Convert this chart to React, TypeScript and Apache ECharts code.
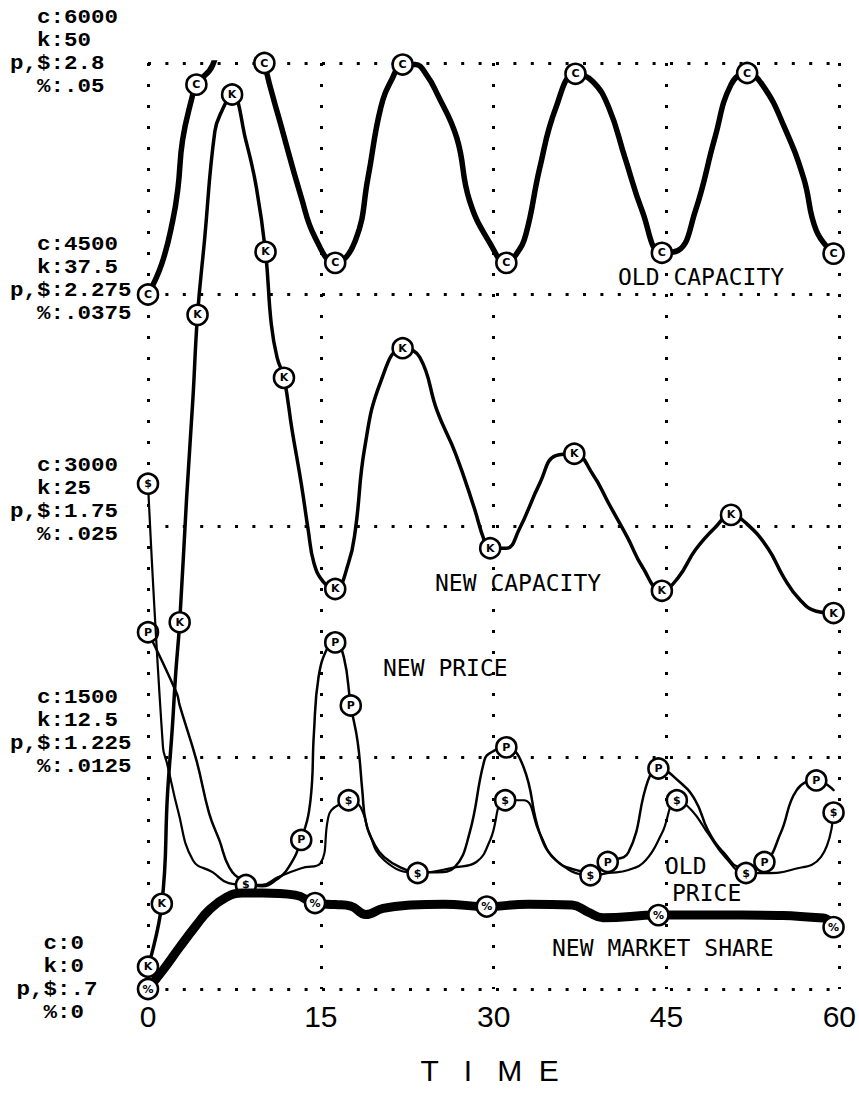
import React, { useEffect, useRef } from "react";
import * as echarts from "echarts";

// ---- axis tick labels ----
const timeTicks = [0, 15, 30, 45, 60];
const cTicks = ["6000", "4500", "3000", "1500", "0"];
const kTicks = ["50", "37.5", "25", "12.5", "0"];
const pTicks = ["2.8", "2.275", "1.75", "1.225", ".7"];
const pctTicks = [".05", ".0375", ".025", ".0125", "0"];

// ---- series: [time, value] ----
// old capacity (c scale)
const oldCapacity: [number, number][] = [
  [0, 4500], [1.2, 4700], [2.15, 4980], [2.6, 5190], [3.0, 5500], [3.8, 5770], [4.2, 5860],
  [5.6, 5985], [7.0, 6350], [8.2, 6500], [9.3, 6350], [10.1, 6000], [11.6, 5580], [13.3, 5130],
  [14.5, 4870], [16.25, 4705], [18.0, 4850], [19.1, 5260], [20.2, 5710], [21.2, 5900], [22.1, 5990],
  [23.2, 5990], [24.2, 5920], [25.1, 5800], [26.8, 5515], [27.9, 5110], [29.7, 4830], [31.1, 4705],
  [32.0, 4765], [32.8, 4890], [34.0, 5320], [35.4, 5710], [37.1, 5930], [38.6, 5880], [40.0, 5710],
  [41.4, 5385], [42.9, 5040], [44.6, 4770], [46.0, 4785], [47.5, 5040], [49.2, 5515], [50.6, 5860],
  [52.0, 5935], [53.4, 5850], [55.2, 5590], [56.9, 5255], [58.0, 4915], [59.5, 4765],
];
const oldCapacityMarks = [0, 4.2, 10.1, 16.25, 22.1, 31.1, 37.1, 44.6, 52.0, 59.5];

// new capacity (k scale)
const newCapacity: [number, number][] = [
  [0, 1.2], [1.2, 4.6], [1.7, 10.6], [2.1, 14.0], [2.4, 17.0], [2.75, 19.8], [3.35, 26.5], [3.9, 31.9],
  [4.3, 36.4], [4.9, 40.4], [5.8, 46.3], [6.4, 47.4], [7.3, 48.3], [8.5, 45.8], [9.4, 43.3],
  [10.2, 39.8], [10.7, 35.9], [11.2, 34.1], [11.8, 33.0], [12.5, 30.2], [13.3, 27.3], [13.9, 24.8],
  [14.4, 23.0], [15.2, 22.0], [16.25, 21.6], [17.4, 23.0], [18.0, 24.8], [18.8, 29.2], [20.2, 32.8],
  [22.1, 34.6], [23.6, 34.1], [25.1, 31.2], [26.7, 28.9], [28.3, 26.0], [29.2, 24.2], [29.7, 23.8],
  [31.1, 23.8], [32.2, 24.8], [34.0, 27.3], [35.4, 28.8], [37.0, 28.9], [38.6, 27.8], [40.0, 26.2],
  [41.6, 24.4], [42.9, 22.8], [44.6, 21.5], [46.0, 22.2], [47.5, 23.7], [49.2, 24.9], [50.6, 25.6],
  [52.0, 25.1], [53.8, 23.8], [55.2, 22.2], [56.6, 21.0], [58.0, 20.4], [59.5, 20.3],
];
const newCapacityMarks = [0, 1.2, 2.75, 4.3, 7.3, 10.2, 11.8, 16.25, 22.1, 29.7, 37.0, 44.6, 50.6, 59.5];

// new price (p,$ scale)
const newPrice: [number, number][] = [
  [0, 1.509], [2.5, 1.37], [2.75, 1.343], [4.2, 1.219], [5.3, 1.099], [6.2, 1.037], [7.05, 0.976],
  [8.2, 0.947], [9.9, 0.933], [11.1, 0.947], [12.2, 0.976], [13.3, 1.038], [14.1, 1.128], [14.4, 1.28],
  [14.8, 1.407], [15.6, 1.475], [16.25, 1.486], [17.0, 1.452], [17.6, 1.343], [18.2, 1.26], [18.6, 1.15],
  [18.9, 1.08], [19.7, 1.026], [20.5, 0.999], [21.9, 0.976], [23.4, 0.965], [25.1, 0.965], [26.6, 0.976],
  [27.9, 1.053], [29.2, 1.219], [29.8, 1.237], [31.1, 1.248], [32.6, 1.203], [34.0, 1.053], [35.4, 0.992],
  [37.1, 0.97], [38.6, 0.963], [39.9, 0.988], [41.7, 1.01], [43.4, 1.173], [44.3, 1.2], [46.0, 1.173],
  [47.5, 1.128], [48.6, 1.06], [50.0, 1.008], [51.5, 0.976], [53.5, 0.988], [54.9, 1.053], [56.3, 1.151],
  [58.0, 1.173], [59.5, 1.151],
];
const newPriceMarks = [0, 13.3, 16.25, 17.6, 31.1, 39.9, 44.3, 53.5, 58.0];

// old price (p,$ scale)
const oldPrice: [number, number][] = [
  [0, 1.846], [1.3, 1.248], [1.65, 1.212], [2.6, 1.105], [3.9, 0.992], [5.6, 0.965], [7.0, 0.94],
  [8.5, 0.936], [9.9, 0.936], [11.3, 0.954], [13.3, 0.974], [14.96, 0.985], [15.6, 1.083], [15.9, 1.105],
  [16.8, 1.121], [17.4, 1.128], [18.2, 1.121], [18.8, 1.09], [19.1, 1.06], [20.5, 0.992], [23.4, 0.963],
  [26.6, 0.976], [28.5, 0.988], [29.7, 1.038], [31.0, 1.128], [32.6, 1.128], [34.0, 1.053], [35.4, 0.992],
  [38.4, 0.958], [40.0, 0.963], [41.7, 0.97], [43.2, 0.992], [44.6, 1.053], [45.9, 1.128], [47.2, 1.105],
  [48.6, 1.053], [50.1, 0.999], [51.9, 0.963], [53.7, 0.963], [55.8, 0.97], [58.4, 0.999], [59.5, 1.1],
];
const oldPriceMarks = [0, 8.5, 17.4, 23.4, 31.0, 38.4, 45.9, 51.9, 59.5];

// new market share (% scale)
const marketShare: [number, number][] = [
  [0, 0], [1.3, 0.00102], [2.75, 0.00226], [4.2, 0.00345], [5.3, 0.00426], [6.8, 0.00496], [8.2, 0.00518],
  [9.9, 0.00518], [12.8, 0.00507], [14.5, 0.00464], [16.25, 0.00456], [17.6, 0.00448], [18.9, 0.00402],
  [20.4, 0.00435], [22.8, 0.00453], [25.7, 0.00458], [29.4, 0.00445], [33.0, 0.00458], [36.8, 0.00453],
  [38.2, 0.00415], [39.5, 0.00385], [44.3, 0.00399], [51.5, 0.00399], [58.6, 0.00383], [59.5, 0.00334],
];
const marketShareMarks = [0, 14.5, 29.4, 44.3, 59.5];

// ---- annotation texts ----
const curveNames = ["OLD CAPACITY", "NEW CAPACITY", "NEW PRICE", "OLD", "PRICE", "NEW MARKET SHARE"];
const curveNamePos: [number, number][] = [[618, 277], [435, 583], [383, 668], [665, 866], [672, 893], [552, 948]];

const labelBlockTop = [17.5, 244.5, 465.5, 697.5, 943.5];
const labelBlockLeft = [10, 10, 10, 10, 16.5];

const TICK_FONT = "'Liberation Sans', Arial, sans-serif";
const NAME_FONT = "'DejaVu Sans Mono', monospace";
const LEFT_FONT = "'Liberation Mono', 'DejaVu Sans Mono', monospace";

function toData(points: [number, number][], marks: number[], letter: string) {
  return points.map(([t, v]) =>
    marks.indexOf(t) >= 0
      ? { value: [t, v], symbol: "circle", symbolSize: 20, label: { show: true, formatter: letter } }
      : { value: [t, v], symbol: "none" }
  );
}

export default function App() {
  const ref = useRef<HTMLDivElement>(null);
  useEffect(() => {
    if (!ref.current) return;
    const chart = echarts.init(ref.current, undefined, { renderer: "svg" });

    const seriesDefs = [
      { name: "Old capacity", points: oldCapacity, marks: oldCapacityMarks, letter: "C", axis: 0, width: 5.5 },
      { name: "New capacity", points: newCapacity, marks: newCapacityMarks, letter: "K", axis: 1, width: 3.5 },
      { name: "New price", points: newPrice, marks: newPriceMarks, letter: "P", axis: 2, width: 2.5 },
      { name: "Old price", points: oldPrice, marks: oldPriceMarks, letter: "$", axis: 2, width: 2.2 },
      { name: "New market share", points: marketShare, marks: marketShareMarks, letter: "%", axis: 3, width: 9 },
    ];

    const nb = "\u00a0";
    const prefixes = ["c", "k", "p,$", "%"];
    const leftTexts: any[] = [];
    cTicks.forEach((c, i) => {
      const vals = [c, kTicks[i], pTicks[i], pctTicks[i]];
      prefixes.forEach((p, j) => {
        leftTexts.push({
          type: "text",
          x: labelBlockLeft[i],
          y: labelBlockTop[i] + j * 23,
          scaleX: 1.125,
          silent: true,
          style: {
            text: nb.repeat(3 - p.length) + p + ":" + vals[j],
            fill: "#000",
            fontFamily: LEFT_FONT,
            fontSize: 20,
            fontWeight: "bold",
            align: "left",
            verticalAlign: "middle",
            textAlign: "left",
            textVerticalAlign: "middle",
          },
        });
      });
    });

    const nameTexts = curveNames.map((txt, i) => ({
      type: "text",
      x: curveNamePos[i][0],
      y: curveNamePos[i][1],
      silent: true,
      style: {
        text: txt,
        fill: "#000",
        fontFamily: NAME_FONT,
        fontSize: 23,
        align: "left",
        verticalAlign: "middle",
        textAlign: "left",
        textVerticalAlign: "middle",
      },
    }));

    const option: any = {
      animation: false,
      backgroundColor: "#fff",
      grid: { left: 148, right: 13, top: 63, bottom: 120, containLabel: false },
      xAxis: {
        type: "value",
        min: timeTicks[0],
        max: timeTicks[timeTicks.length - 1],
        interval: 15,
        axisLine: { show: false },
        axisTick: { show: false },
        axisLabel: { margin: 12, fontSize: 30, color: "#000", fontFamily: TICK_FONT },
        splitLine: { show: true, lineStyle: { color: "#000", width: 3, type: [3, 18] } },
        name: "T" + nb.repeat(3) + "I" + nb.repeat(3) + "M" + nb.repeat(2) + "E",
        nameLocation: "middle",
        nameGap: 66,
        nameTextStyle: { fontSize: 30, fontFamily: TICK_FONT, color: "#000", padding: [0, 8, 0, 0] },
      },
      yAxis: [
        {
          type: "value", min: 0, max: 6000, interval: 1500,
          axisLine: { show: false }, axisTick: { show: false }, axisLabel: { show: false },
          splitLine: { show: true, lineStyle: { color: "#000", width: 3, type: [3, 14.4] } },
        },
        { type: "value", min: 0, max: 50, show: false, splitLine: { show: false } },
        { type: "value", min: 0.7, max: 2.8, show: false, splitLine: { show: false } },
        { type: "value", min: 0, max: 0.05, show: false, splitLine: { show: false } },
      ],
      graphic: [...leftTexts, ...nameTexts],
      series: seriesDefs.map((d, i) => ({
        type: "line",
        name: d.name,
        yAxisIndex: d.axis,
        data: toData(d.points, d.marks, d.letter),
        smooth: 0.45,
        symbol: "none",
        showSymbol: true,
        clip: true,
        silent: true,
        z: 2 + i,
        lineStyle: { color: "#000", width: d.width, cap: "round", join: "round" },
        itemStyle: { color: "#fff", borderColor: "#000", borderWidth: 2.6 },
        label: {
          show: false, position: "inside", color: "#000", fontSize: 11, fontWeight: "bold",
          fontFamily: "'DejaVu Sans', sans-serif",
        },
        emphasis: { disabled: true },
      })),
    };
    chart.setOption(option);
    return () => chart.dispose();
  }, []);
  return (
    <div
      ref={ref}
      style={{ position: "absolute", left: 0, top: 0, width: 859, height: 1109, background: "#fff" }}
    />
  );
}
